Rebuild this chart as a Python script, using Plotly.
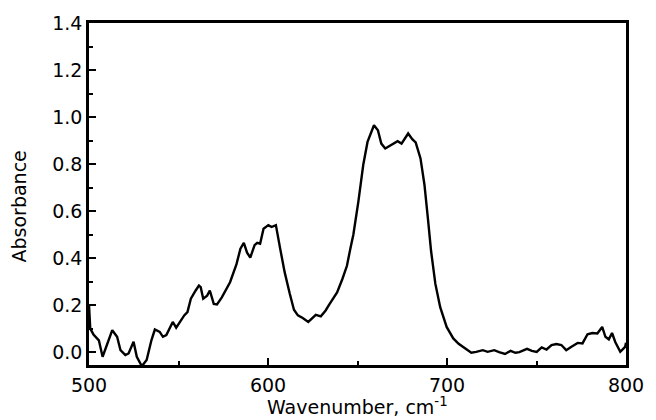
import plotly.graph_objects as go

# Absorption spectrum, wavenumber (cm-1) vs absorbance
wavenumber = [
    500.0, 500.7, 502.5, 505.5, 507.6, 510.2, 513.0, 515.7, 517.6, 520.3,
    522.1, 524.9, 526.7, 529.5, 532.2, 534.9, 536.8, 539.5, 541.3, 543.2,
    545.0, 546.8, 548.7, 551.4, 553.2, 555.0, 556.9, 559.6, 561.4, 562.4,
    563.8, 566.0, 567.5, 569.7, 571.5, 574.2, 578.8, 582.4, 584.6, 586.5,
    588.3, 590.1, 592.5, 594.0, 595.6, 597.5, 600.2, 602.0, 604.4, 606.8,
    609.3, 612.1, 614.5, 616.7, 619.4, 622.5, 626.7, 629.5, 632.2, 634.0,
    638.6, 641.5, 644.1, 646.0, 647.7, 650.5, 653.2, 655.6, 659.2, 661.4,
    663.3, 665.5, 669.7, 672.4, 674.6, 678.3, 680.6, 682.5, 685.2, 687.4,
    689.3, 691.1, 693.5, 696.2, 699.8, 703.5, 706.5, 709.9, 713.6, 716.3,
    720.0, 722.7, 726.4, 729.1, 732.4, 735.5, 738.2, 740.4, 744.7, 747.4,
    750.1, 752.9, 755.6, 758.4, 761.1, 763.9, 766.6, 769.3, 773.0, 775.7,
    778.5, 781.2, 784.0, 786.7, 788.5, 790.4, 792.2, 794.0, 796.8, 799.5,
    800.0,
]
absorbance = [
    0.200, 0.100, 0.075, 0.050, -0.020, 0.037, 0.093, 0.065, 0.008, -0.013,
    -0.006, 0.044, -0.020, -0.060, -0.034, 0.051, 0.096, 0.086, 0.065, 0.072,
    0.100, 0.128, 0.104, 0.135, 0.156, 0.170, 0.227, 0.262, 0.283, 0.276,
    0.227, 0.240, 0.262, 0.205, 0.203, 0.233, 0.297, 0.374, 0.440, 0.465,
    0.423, 0.402, 0.455, 0.465, 0.461, 0.525, 0.540, 0.532, 0.540, 0.440,
    0.340, 0.250, 0.180, 0.156, 0.145, 0.128, 0.158, 0.152, 0.177, 0.200,
    0.254, 0.310, 0.367, 0.440, 0.500, 0.641, 0.796, 0.894, 0.965, 0.944,
    0.887, 0.866, 0.887, 0.897, 0.887, 0.930, 0.906, 0.892, 0.824, 0.712,
    0.571, 0.430, 0.290, 0.191, 0.107, 0.058, 0.035, 0.016, -0.003, 0.001,
    0.008, 0.001, 0.008, 0.000, -0.008, 0.005, -0.003, 0.000, 0.014, 0.005,
    0.001, 0.020, 0.011, 0.030, 0.034, 0.030, 0.008, 0.022, 0.039, 0.037,
    0.076, 0.081, 0.079, 0.107, 0.065, 0.054, 0.081, 0.043, 0.001, 0.022,
    0.040,
]

x_ticks = [500, 600, 700, 800]
y_ticks = [0.0, 0.2, 0.4, 0.6, 0.8, 1.0, 1.2, 1.4]

x_title = "Wavenumber, cm<sup>-1</sup>"
y_title = "Absorbance"

font_family = "DejaVu Sans, Liberation Sans, Arial, sans-serif"
text_font = dict(family=font_family, size=19, color="black")
title_font = dict(family=font_family, size=19, color="black")

fig = go.Figure(
    go.Scatter(
        x=wavenumber,
        y=absorbance,
        mode="lines",
        line=dict(color="black", width=2.4),
        showlegend=False,
        hoverinfo="skip",
    )
)

axis_common = dict(
    showgrid=False,
    zeroline=False,
    showline=True,
    linecolor="black",
    linewidth=2.5,
    mirror=True,
    ticks="inside",
    tickcolor="black",
    tickwidth=2,
    ticklen=7,
    tickfont=text_font,
)

fig.update_xaxes(
    range=[500, 800],
    tickvals=x_ticks,
    ticktext=[str(v) for v in x_ticks],
    ticklabelstandoff=1,
    minor=dict(ticks="inside", dtick=50, tick0=500, ticklen=4, tickwidth=2,
               tickcolor="black", showgrid=False),
    **axis_common,
)
fig.update_yaxes(
    range=[-0.055, 1.4],
    tickvals=y_ticks,
    ticktext=[f"{v:.1f}" for v in y_ticks],
    minor=dict(ticks="inside", dtick=0.1, tick0=0, ticklen=4, tickwidth=2,
               tickcolor="black", showgrid=False),
    **axis_common,
)

# Axis titles placed as annotations relative to the plot area
fig.add_annotation(
    text=x_title, xref="paper", yref="paper", x=0.5, y=-0.162,
    xanchor="center", yanchor="bottom", showarrow=False, font=title_font,
)
fig.add_annotation(
    text=y_title, xref="paper", yref="paper", x=-0.13, y=0.464,
    xanchor="center", yanchor="middle", textangle=-90, showarrow=False,
    font=title_font,
)

fig.update_layout(
    width=656,
    height=420,
    margin=dict(l=89, r=20, t=20, b=55),
    plot_bgcolor="white",
    paper_bgcolor="white",
)

fig.write_html("out.html")
